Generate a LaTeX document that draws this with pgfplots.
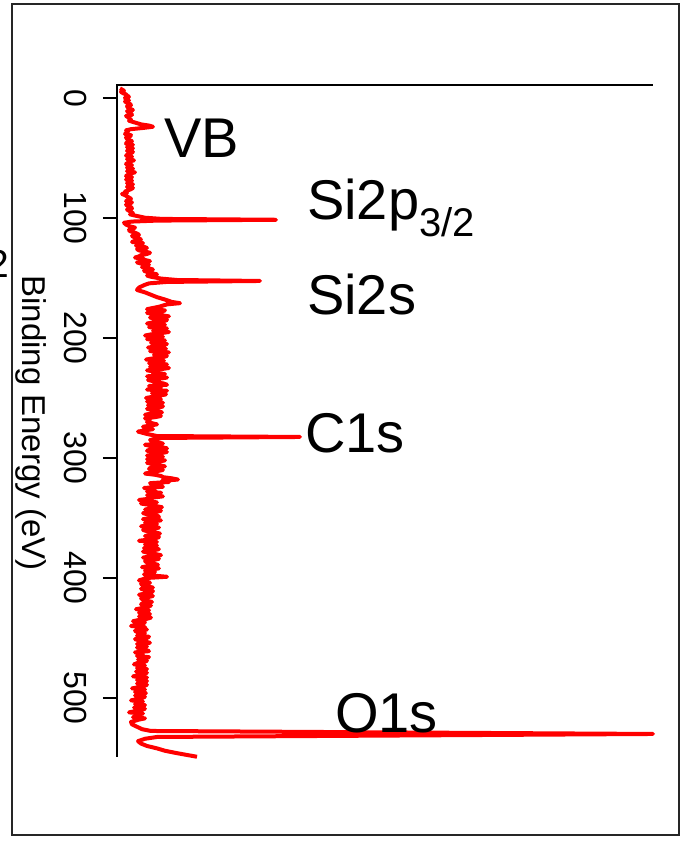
\documentclass[border=0pt]{standalone}
\usepackage{fontspec}
\setmainfont{Liberation Sans}
\usepackage{pgfplots}
\usepackage{pgfplotstable}
\pgfplotsset{compat=1.18}

% binding energy (eV) vs. intensity (arb. units)
\pgfplotstableread{
E I
-8 3
-7 5
-6 7
-5 4
-4 6
-3 9
-2 10
-1 12
0 8
1 9
2 12
3 8
4 10
5 13
6 14
7 10
8 11
9 13
10 16
11 10
12 12
13 14
14 15
15 9
16 11
17 12
18 14
19 12
20 16
22 24
23 32
24 36
25 26
26 14
27 9
28 11
30 8
31 14
32 13
33 9
34 10
35 12
36 15
37 10
38 9
39 16
40 12
41 10
42 16
43 12
44 10
45 16
46 14
47 11
48 9
49 15
50 13
51 10
52 17
53 12
54 11
55 9
56 15
57 12
58 10
59 16
60 14
61 10
62 18
63 13
64 11
65 9
66 15
67 13
68 9
69 15
70 13
71 10
72 16
73 12
74 10
75 16
76 14
77 11
78 8
79 10
80 5
81 8
82 10
83 12
84 14
85 11
86 9
87 15
88 13
89 9
90 11
91 14
92 15
93 10
94 12
95 14
96 16
97 13
98 18
99.8 28
100.8 45
101.5 159
102.2 40
103 15
104 7
105.5 9
107 13
108 18
109 16
110 12
111 13
112 17
113 20
114 22
115 15
116 17
117 22
118 24
119 18
120 15
121 26
122 22
123 19
124 27
125 30
126 20
127 22
128 28
129 33
130 30
131 24
132 22
133 18
134 26
135 28
136 33
137 20
138 24
139 32
140 28
141 25
142 32
143 36
144 27
145 30
146 35
147 40
148 30
149 34
150.5 44
151.7 60
152.5 143
153.3 50
154.5 32
156 27
158 22
160 20
162 28
164 34
166 40
168 48
170 55
171 63
172 50
174 42
176 30
177 48
178 45
179 30
180 35
181 44
182 52
183 33
184 38
185 50
186 47
187 36
188 30
189 48
190 42
191 32
192 50
193 40
194 36
195 52
196 44
197 34
198 28
199 46
200 40
201 30
202 48
203 38
204 34
205 50
206 45
207 40
208 31
209 49
210 43
211 33
212 52
213 40
214 37
215 50
216 46
217 36
218 29
219 47
220 41
221 32
222 50
223 42
224 33
225 52
226 44
227 30
228 38
229 36
230 48
231 44
232 30
233 50
234 42
235 31
236 36
237 40
238 47
239 50
240 32
241 44
242 40
243 30
244 50
245 42
246 35
247 49
248 43
249 36
250 29
251 44
252 39
253 30
254 46
255 38
256 31
257 46
258 42
259 30
260 35
261 40
262 45
263 34
264 28
265 44
266 38
267 28
268 33
270 30
272 40
274 26
276 36
278 21
280 30
281.7 40
282.5 183
283.3 45
285 33
287 40
288 46
289 28
290 34
291 45
292 50
293 33
294 30
295 50
296 44
297 38
298 30
299 46
300 40
301 30
302 48
303 42
304 30
305 36
306 42
307 48
308 34
309 32
310 46
311 40
312 34
313 28
314 38
315 44
316 46
317 55
318 61
319 45
320 52
321 33
322 36
323 40
324 46
325 27
326 34
327 38
328 30
329 44
330 42
331 30
332 46
333 36
334 32
335 22
336 30
337 40
338 24
339 32
340 38
341 45
342 34
343 28
344 44
345 38
346 26
347 31
348 40
349 42
350 34
351 26
352 44
353 35
354 28
355 40
356 32
357 24
358 42
359 36
360 26
361 30
362 38
363 43
364 36
365 28
366 42
367 38
368 32
369 22
370 40
371 34
372 28
373 40
374 36
375 27
376 42
377 36
378 26
379 31
380 38
381 44
382 34
383 26
384 42
385 37
386 28
387 30
388 36
389 41
390 32
391 25
392 42
393 34
394 28
395 38
396 33
397 27
398 36
399 50
400 30
402 22
403 30
404 33
405 24
406 26
407 30
408 36
409 24
410 28
411 36
412 34
413 28
414 22
415 36
416 31
417 24
418 26
419 30
420 35
421 26
422 24
423 34
424 30
425 26
426 19
427 32
428 28
429 22
430 33
431 28
432 22
433 34
434 30
435 22
436 16
437 28
438 26
439 20
440 14
441 28
442 24
443 30
444 18
445 20
446 28
447 24
448 20
449 32
450 30
451 18
452 22
453 28
454 33
455 20
456 25
457 30
458 20
459 24
460 29
461 32
462 18
463 24
464 26
465 20
466 32
467 28
468 21
469 30
470 27
471 20
472 17
473 28
474 25
475 20
476 30
477 26
478 19
479 30
480 26
481 22
482 16
483 30
484 24
485 20
486 30
487 26
488 20
489 30
490 27
491 22
492 15
493 28
494 23
495 18
496 29
497 24
498 18
499 28
500 25
501 20
502 14
503 26
504 22
505 18
506 28
507 24
508 17
509 28
510 24
511 18
512 12
513 26
514 20
515 22
516 16
517 28
518 22
519 18
520 14
522 15
524 20
526 25
527.5 34
530 536
532.5 40
534 28
536 21
538 24
540 30
542 40
544 48
546 60
547.5 70
549 80
}\spectrum

\begin{document}
\begin{tikzpicture}
\useasboundingbox (-117pt,-86pt) rectangle (569pt,757pt);
\begin{axis}[
    at={(0pt,0pt)}, anchor=south west,
    scale only axis, width=536pt, height=672pt,
    xmin=0, xmax=536, ymin=-10.8, ymax=549.2,
    y dir=reverse,
    axis line style={draw=none},
    xtick=\empty,
    ytick={0,100,200,300,400,500},
    ytick pos=left,
    tick align=outside,
    major tick length=14pt,
    tick style={black, line width=1.3pt},
    /pgf/number format/assume math mode=true,
    yticklabel style={rotate=-90, anchor=north, inner xsep=0pt, inner ysep=16pt,
        font=\fontsize{32}{36}\selectfont},
    clip=false,
]
\addplot[red, line width=4pt, line join=round] table[x=I, y=E] {\spectrum};
\end{axis}
% axis spines
\draw[line width=1.5pt] (0pt,0pt) -- (0pt,672pt) -- (536pt,672pt);
% outer frame
\draw[line width=1.6pt, black!85] (-105pt,-78pt) rectangle (562pt,753pt);
% axis label
\node[rotate=-90, anchor=north, inner sep=0pt, font=\fontsize{33}{38}\selectfont]
    at (-70pt,334pt) {Binding Energy (eV)};
% peak labels
\begin{scope}[every node/.style={anchor=base west, inner sep=0pt, font=\fontsize{56}{60}\selectfont}]
\node at (47pt,599pt) {VB};
\node at (190pt,537pt) {Si2p\raisebox{-17pt}{\fontsize{40}{44}\selectfont 3/2}};
\node at (190pt,442pt) {Si2s};
\node at (188pt,304pt) {C1s};
\node at (218pt,24pt) {O1s};
\end{scope}
% cut-off label fragment at the left edge
\node[overlay, anchor=base east, inner sep=0pt, font=\fontsize{39}{42}\selectfont]
    at (-108pt,479pt) {2};
\end{tikzpicture}
\end{document}
